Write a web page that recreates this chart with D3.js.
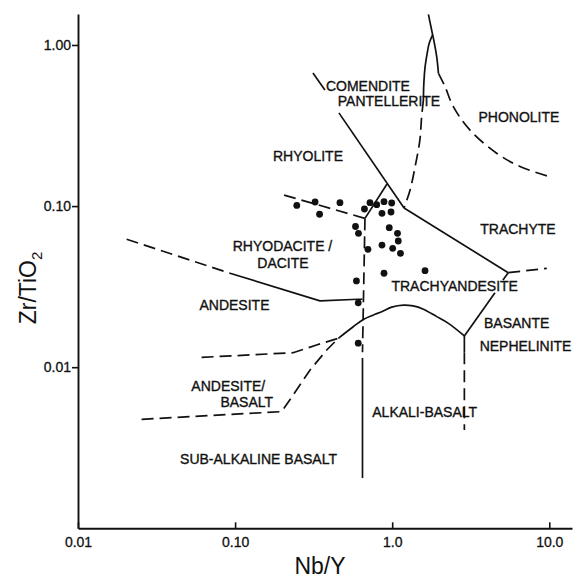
<!DOCTYPE html>
<html><head><meta charset="utf-8">
<script src="https://cdn.jsdelivr.net/npm/d3@7"></script>
<style>
body{margin:0;background:#fff}
svg{display:block}
text{font-family:"Liberation Sans",Arial,sans-serif;fill:#111}
</style>
</head><body><div id="chart"></div>
<script>
// ---- axis ticks ----
const xTicks = [0.01, 0.1, 1, 10];
const xTickLabels = ["0.01", "0.10", "1.0", "10.0"];
const yTicks = [0.01, 0.1, 1];
const yTickLabels = ["0.01", "0.10", "1.00"];

// ---- samples (Nb/Y, Zr/TiO2) ----
const nbY  = [0.247, 0.323, 0.345, 0.465, 0.584, 0.610, 0.666, 0.722, 0.797, 0.887, 0.993, 0.861, 0.983, 0.958, 1.081, 1.093, 1.007, 1.129, 0.861, 0.701, 0.887, 1.618, 0.592, 0.608, 0.608];
const zrTi = [0.101, 0.106, 0.089, 0.105, 0.0747, 0.0678, 0.0959, 0.105, 0.102, 0.1065, 0.1045, 0.0902, 0.0919, 0.0734, 0.0678, 0.0607, 0.0547, 0.0509, 0.0573, 0.0539, 0.0383, 0.0397, 0.0343, 0.0251, 0.0141];

// ---- field boundaries [Nb/Y, Zr/TiO2] ----
const comenditeUpper = [[0.313, 0.670], [0.373, 0.526]];
const comenditeLower = [[0.458, 0.379], [1.19, 0.0973]];
const rhyoliteSolid  = [[0.671, 0.0839], [0.927, 0.137]];
const rhyoliteDashed = [[0.205, 0.117], [0.671, 0.0839]];
const dividerDashed  = [[0.671, 0.0839], [0.647, 0.0124]];
const dividerSolid   = [[0.647, 0.0114], [0.647, 0.00205]];
const trachyteSolid  = [[1.19, 0.0973], [5.48, 0.0386]];
const trachyteDashed = [[5.48, 0.0386], [9.64, 0.0411]];
const basaniteUpper  = [[5.48, 0.0386], [5.07, 0.0348]];
const basaniteLower  = [[4.51, 0.0290], [2.88, 0.01563]];
const nephSolid      = [[2.88, 0.01563], [2.88, 0.0124]];
const nephDashed     = [[2.88, 0.0124], [2.88, 0.00408]];
const alkaliCurve    = [[0.454, 0.0151], [0.565, 0.01782], [0.655, 0.0198], [0.759, 0.0211], [0.857, 0.0221], [0.993, 0.0236], [1.18, 0.0243], [1.36, 0.0240], [1.58, 0.0229], [1.92, 0.0206], [2.28, 0.0187], [2.88, 0.01563]];
const abUpper        = [[0.0612, 0.01151], [0.234, 0.0123], [0.330, 0.01374], [0.454, 0.0151]];
const abLower        = [[0.0254, 0.00475], [0.198, 0.0053], [0.234, 0.00671], [0.300, 0.00961], [0.383, 0.01279], [0.454, 0.0151]];
const andesiteDashed = [[0.0204, 0.0622], [0.0928, 0.0383]];
const andesiteSolid  = [[0.0928, 0.0383], [0.347, 0.0258], [0.608, 0.0264], [0.647, 0.0264]];
const phonoStem      = [[1.70, 1.55], [1.81, 1.154]];
const pantLeftSolid  = [[1.81, 1.154], [1.72, 1.025], [1.67, 0.888], [1.62, 0.733], [1.59, 0.578], [1.58, 0.456]];
const pantLeftDashed = [[1.58, 0.456], [1.54, 0.359], [1.50, 0.257], [1.40, 0.176], [1.30, 0.126], [1.19, 0.0973]];
const phonoSolid     = [[1.81, 1.154], [1.83, 1.10], [1.92, 0.846], [1.97, 0.667]];
const phonoDashed    = [[1.97, 0.667], [2.17, 0.551], [2.45, 0.414], [3.13, 0.296], [4.62, 0.213], [6.51, 0.176], [10.1, 0.152]];

// ---- field names (anchored in data space) ----
const fieldNames = ["RHYOLITE", "COMENDITE", "PANTELLERITE", "PHONOLITE", "TRACHYTE", "RHYODACITE /", "DACITE", "TRACHYANDESITE", "ANDESITE", "BASANTE", "NEPHELINITE", "ANDESITE/", "BASALT", "SUB-ALKALINE BASALT", "ALKALI-BASALT"];
const fieldX = [0.291, 0.701, 0.954, 6.41, 6.32, 0.2003, 0.2018, 2.50, 0.0991, 6.20, 7.06, 0.0905, 0.1186, 0.141, 1.61];
const fieldY = [0.1905, 0.518, 0.418, 0.333, 0.0672, 0.0526, 0.0415, 0.0299, 0.0225, 0.01758, 0.01252, 0.00714, 0.00566, 0.00251, 0.00489];

// ---- drawing ----
const W = 577, H = 580;
const margin = {top: 14, right: 5, bottom: 51.7, left: 78};
const svg = d3.select("#chart").append("svg").attr("width", W).attr("height", H);

const x = d3.scaleLog().domain([0.01, 13.95]).range([margin.left, W - margin.right]);
const y = d3.scaleLog().domain([0.001, 1.557]).range([H - margin.bottom, margin.top]);

const smoothSet = new Set([alkaliCurve, pantLeftSolid, pantLeftDashed, phonoSolid, phonoDashed]);
const solid = [comenditeUpper, comenditeLower, rhyoliteSolid, dividerSolid, trachyteSolid, basaniteUpper, basaniteLower, nephSolid, alkaliCurve, andesiteSolid, phonoStem, pantLeftSolid, phonoSolid];
const dashed = [rhyoliteDashed, dividerDashed, trachyteDashed, nephDashed, abUpper, abLower, andesiteDashed, pantLeftDashed, phonoDashed];

const smoothLine = d3.line().x(d => x(d[0])).y(d => y(d[1])).curve(d3.curveCatmullRom.alpha(0.5));
const straightLine = d3.line().x(d => x(d[0])).y(d => y(d[1]));
const path = d => (smoothSet.has(d) ? smoothLine : straightLine)(d);

svg.append("g").selectAll("path").data(solid).join("path")
  .attr("d", path).attr("fill", "none").attr("stroke", "#111").attr("stroke-width", 1.7)
  .attr("stroke-linejoin", "round");
svg.append("g").selectAll("path").data(dashed).join("path")
  .attr("d", path).attr("fill", "none").attr("stroke", "#111").attr("stroke-width", 1.7)
  .attr("stroke-dasharray", "12,6");

// axes
const xAxis = d3.axisBottom(x).tickValues(xTicks).tickFormat((d, i) => xTickLabels[i])
  .tickSizeInner(-6).tickSizeOuter(0).tickPadding(8.5);
const gx = svg.append("g").attr("transform", `translate(0,${H - margin.bottom})`).call(xAxis);
const yAxis = d3.axisLeft(y).tickValues(yTicks).tickFormat((d, i) => yTickLabels[i])
  .tickSizeInner(6).tickSizeOuter(0).tickPadding(1);
const gy = svg.append("g").attr("transform", `translate(${margin.left},0)`).call(yAxis);
[gx, gy].forEach(g => {
  g.select(".domain").attr("stroke", "#111").attr("stroke-width", 1.9);
  g.selectAll(".tick line").attr("stroke", "#111").attr("stroke-width", 1.6);
  g.selectAll(".tick text").attr("font-size", 14).attr("fill", "#111")
    .attr("stroke", "#111").attr("stroke-width", 0.3)
    .attr("font-family", '"Liberation Sans", Arial, sans-serif');
});

// points
svg.append("g").selectAll("circle").data(nbY).join("circle")
  .attr("cx", d => x(d)).attr("cy", (d, i) => y(zrTi[i])).attr("r", 3.4).attr("fill", "#111");

// field labels
svg.append("g").selectAll("text").data(fieldNames).join("text")
  .attr("x", (d, i) => x(fieldX[i])).attr("y", (d, i) => y(fieldY[i]))
  .attr("text-anchor", "middle").attr("font-size", 14)
  .attr("stroke", "#111").attr("stroke-width", 0.35).text(d => d);

// axis titles
svg.append("text").attr("x", 320).attr("y", 574).attr("text-anchor", "middle")
  .attr("font-size", 23).text("Nb/Y");
const yt = svg.append("text").attr("transform", "translate(36,288) rotate(-90)")
  .attr("text-anchor", "middle").attr("font-size", 23);
yt.append("tspan").text("Zr/TiO");
yt.append("tspan").attr("font-size", 15).attr("dy", 6).text("2");
</script>
</body></html>
